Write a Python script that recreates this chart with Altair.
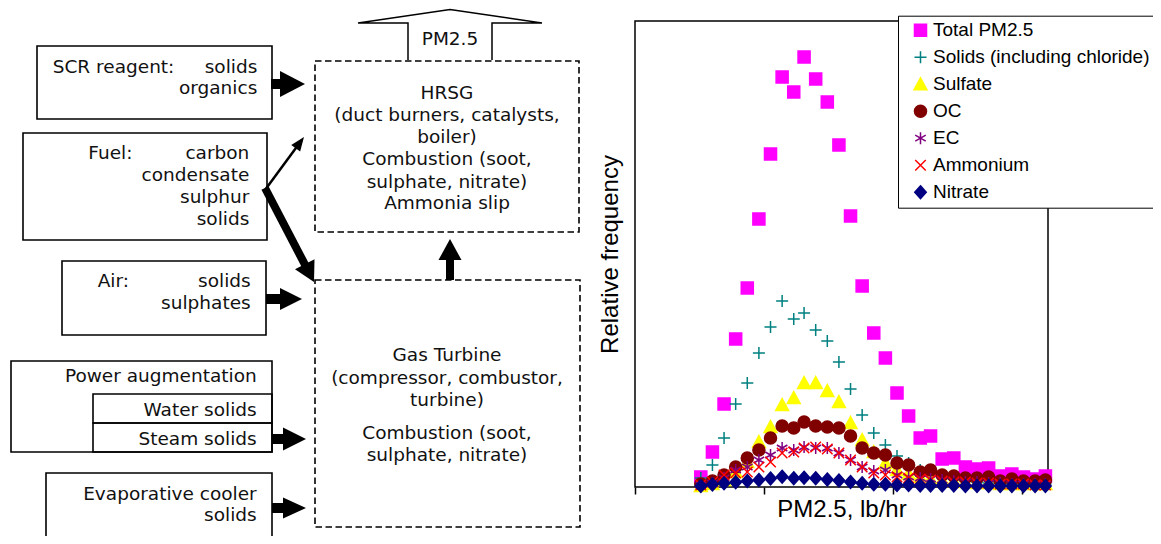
import math
import altair as alt
import pandas as pd

# ---------------- scatter data ----------------
series_names = ["Total PM2.5", "Solids (including chloride)", "Sulfate", "OC", "EC", "Ammonium", "Nitrate"]
series_colors = ["#FF00FF", "#008080", "#FFFF00", "#800000", "#800080", "#FF0000", "#000080"]
series_shapes = [
    "M-0.86,-0.86L0.86,-0.86L0.86,0.86L-0.86,0.86Z",
    "M-0.86,0L0.86,0M0,-0.86L0,0.86",
    "M0,-0.9L0.92,0.8L-0.92,0.8Z",
    "M-0.86,0A0.86,0.86,0,1,1,0.86,0A0.86,0.86,0,1,1,-0.86,0Z",
    "M0,-0.86L0,0.86M-0.75,-0.43L0.75,0.43M-0.75,0.43L0.75,-0.43",
    "M-0.75,-0.75L0.75,0.75M-0.75,0.75L0.75,-0.75",
    "M0,-0.92L0.82,0L0,0.92L-0.82,0Z",
]

pm25_bins = [0.51, 0.60, 0.69, 0.78, 0.87, 0.96, 1.05, 1.14, 1.23, 1.31, 1.40, 1.49, 1.58, 1.67, 1.76, 1.85,
             1.94, 2.03, 2.12, 2.21, 2.29, 2.38, 2.47, 2.56, 2.65, 2.74, 2.83, 2.92, 3.01, 3.10, 3.18]
total_pm25 = [10, 35, 83, 148, 199, 268, 333, 410, 395, 430, 408, 385, 342, 271, 201, 154,
              129, 94, 71, 49, 51, 28, 29, 20, 18, 19, 11, 13, 10, 8, 11]
solids = [9, 22, 49, 83, 104, 134, 160, 186, 168, 174, 157, 146, 125, 98, 72, 54,
          42, 31, 24, 17, 13, 10, 8, 6, 5, 4, 4, 3, 3, 3, 3]
sulfate = [1, 3, 7, 15, 25, 45, 60, 82, 89, 104, 104, 96, 85, 64, 47, 35,
           24, 17, 13, 10, 8, 7, 6, 5, 4, 4, 3, 3, 3, 3, 3]
oc = [3, 6, 12, 20, 29, 37, 49, 61, 59, 65, 61, 60, 59, 51, 39, 34,
      32, 24, 22, 15, 17, 12, 11, 9, 9, 10, 6, 8, 6, 6, 7]
ec = [2, 4, 9, 17, 20, 27, 32, 39, 37, 40, 39, 39, 34, 27, 20, 16,
      17, 12, 10, 9, 8, 7, 6, 5, 5, 4, 4, 3, 3, 3, 3]
ammonium = [2, 5, 12, 14, 15, 20, 25, 34, 35, 39, 40, 38, 34, 27, 20, 14,
            12, 10, 9, 8, 7, 6, 5, 5, 4, 4, 3, 3, 3, 2, 2]
nitrate = [1, 2.5, 3.7, 4.7, 6, 7, 8.5, 10.3, 8.7, 9.3, 8.7, 7.5, 6.5, 5, 3.7, 2.7,
           2.7, 2, 2, 1.5, 1.5, 1.5, 1.5, 1, 1, 1, 1, 1, 1, 1, 1]
x_ticks = [0, 1, 2, 3]
x_domain = [0, 3.2]
y_domain = [0, 466]

# ---------------- diagram data (reference pixel coordinates) ----------------
box_x1 = [37, 23, 62, 11, 93, 93, 46]
box_y1 = [46, 133, 261, 361, 394, 423, 473]
box_x2 = [272, 267, 266, 272, 272, 272, 272]
box_y2 = [119, 240, 335, 452, 423, 452, 560]

dbox_x1 = [315, 315]
dbox_y1 = [61, 280]
dbox_x2 = [579, 580]
dbox_y2 = [232, 527]

out_x = [408, 408, 358, 450, 542, 492, 492]
out_y = [60, 23, 23, 9.5, 23, 23, 60]

arrow_tail_x = [271, 266, 272, 272, 450, 265, 265]
arrow_tail_y = [84, 299, 439, 508, 280, 190, 188]
arrow_tip_x = [305, 302, 306, 306, 450, 304, 314]
arrow_tip_y = [84, 299, 439, 508, 239, 137, 282]
arrow_shaft_w = [10, 10, 10, 10, 8, 2.5, 8]
arrow_head_len = [25, 22, 23, 23, 21, 14, 20]
arrow_head_wid = [26, 22, 23, 21, 23, 11, 22]

center_text = ["PM2.5", "HRSG", "(duct burners, catalysts,", "boiler)", "Combustion (soot,",
               "sulphate, nitrate)", "Ammonia slip", "Gas Turbine", "(compressor, combustor,",
               "turbine)", "Combustion (soot,", "sulphate, nitrate)"]
center_x = [450, 447, 447, 447, 447, 447, 447, 447, 447, 447, 447, 447]
center_y = [38.5, 93.3, 115, 136.7, 159.3, 181.7, 203.3, 355, 378.3, 400, 432.7, 455]

left_text = ["SCR reagent:", "Fuel:", "Air:"]
left_x = [52.7, 88.3, 97.7]
left_y = [66.7, 153.3, 281]

right_text = ["solids", "organics", "carbon", "condensate", "sulphur", "solids", "solids",
              "sulphates", "Power augmentation", "Water solids", "Steam solids",
              "Evaporative cooler", "solids"]
right_x = [257.3, 257.3, 249.3, 249.3, 249.3, 249.3, 250.7, 250.7, 256.7, 256.7, 256.7, 256.7, 256.7]
right_y = [66.7, 88.3, 153.3, 175, 197.3, 219, 281, 302.7, 376, 410, 439, 494, 515]

# ---------------- build tables ----------------
rows = []
for name, vals in zip(series_names, [total_pm25, solids, sulfate, oc, ec, ammonium, nitrate]):
    for xv, yv in zip(pm25_bins, vals):
        rows.append({"series": name, "pm": xv, "freq": yv})
scatter_df = pd.DataFrame(rows)

frame_df = pd.DataFrame({"x": [x_domain[0]], "x2": [x_domain[1]], "y": [y_domain[0]], "y2": [y_domain[1]]})

box_df = pd.DataFrame({"x1": box_x1, "y1": box_y1, "x2": box_x2, "y2": box_y2})
dbox_df = pd.DataFrame({"x1": dbox_x1, "y1": dbox_y1, "x2": dbox_x2, "y2": dbox_y2})
out_df = pd.DataFrame({"x": out_x, "y": out_y, "i": list(range(len(out_x)))})

shaft_rows, head_rows = [], []
for tx, ty, px, py, w, L, W in zip(arrow_tail_x, arrow_tail_y, arrow_tip_x, arrow_tip_y,
                                   arrow_shaft_w, arrow_head_len, arrow_head_wid):
    ddx, ddy = px - tx, py - ty
    n = math.hypot(ddx, ddy)
    ux, uy = ddx / n, ddy / n
    bx, by = px - ux * L, py - uy * L
    shaft_rows.append({"x": tx, "y": ty, "bx": bx + ux, "by": by + uy, "w": w})
    head_rows.append({"x": px - ux * L / 2, "y": py - uy * L / 2, "s": L * L,
                      "a": math.degrees(math.atan2(ddy, ddx)) % 360,
                      "path": f"M-1,{-W / L:.3f}L1,0L-1,{W / L:.3f}Z"})
shaft_df = pd.DataFrame(shaft_rows)
head_df = pd.DataFrame(head_rows)

ct_df = pd.DataFrame({"x": center_x, "y": center_y, "t": center_text})
lt_df = pd.DataFrame({"x": left_x, "y": left_y, "t": left_text})
rt_df = pd.DataFrame({"x": right_x, "y": right_y, "t": right_text})

# ---------------- scales ----------------
W_TOTAL, H_TOTAL = 1145, 528
dxs = alt.Scale(domain=[8, 8 + W_TOTAL], range=[0, W_TOTAL], nice=False, zero=False)
dys = alt.Scale(domain=[8, 8 + H_TOTAL], range=[0, H_TOTAL], nice=False, zero=False)
sx = alt.Scale(domain=x_domain, range=[627, 1040], nice=False, zero=False)
sy = alt.Scale(domain=y_domain, range=[479, 13], nice=False, zero=False)

AX_FONT = "Liberation Sans"
x_axis = alt.Axis(orient="bottom", offset=-49, values=x_ticks, labels=False, ticks=True, tickSize=7,
                  tickWidth=1.5, tickColor="black", domain=False, grid=False,
                  title="PM2.5, lb/hr", titleFont=AX_FONT, titleFontSize=24, titleFontWeight="normal",
                  titleColor="black", titlePadding=3)
y_axis = alt.Axis(orient="left", offset=-627, labels=False, ticks=False, domain=False, grid=False,
                  title="Relative frequency", titleFont=AX_FONT, titleFontSize=24,
                  titleFontWeight="normal", titleColor="black", titlePadding=13)

# ---------------- scatter group ----------------
frame = alt.Chart(frame_df).mark_rect(fillOpacity=0, stroke="black", strokeWidth=1.5).encode(
    x=alt.X("x:Q", scale=sx, axis=x_axis),
    x2="x2",
    y=alt.Y("y:Q", scale=sy, axis=y_axis),
    y2="y2",
)

points = alt.Chart(scatter_df).mark_point(filled=True, size=196, strokeWidth=1.5, opacity=1).encode(
    x=alt.X("pm:Q", scale=sx, axis=x_axis),
    y=alt.Y("freq:Q", scale=sy, axis=y_axis),
    fill=alt.Fill("series:N", scale=alt.Scale(domain=series_names, range=series_colors), title=None),
    stroke=alt.Stroke("series:N", scale=alt.Scale(domain=series_names, range=series_colors), title=None),
    shape=alt.Shape("series:N", scale=alt.Scale(domain=series_names, range=series_shapes), title=None),
)
scatter_group = alt.layer(frame, points)

# ---------------- diagram group ----------------
def px_x(f):
    return alt.X(f, scale=dxs, axis=None)

def px_y(f):
    return alt.Y(f, scale=dys, axis=None)

boxes = alt.Chart(box_df).mark_rect(fillOpacity=0, stroke="black", strokeWidth=1.6).encode(
    x=px_x("x1:Q"), x2="x2", y=px_y("y1:Q"), y2="y2")
dboxes = alt.Chart(dbox_df).mark_rect(fillOpacity=0, stroke="black", strokeWidth=1.6,
                                      strokeDash=[6.5, 3.5]).encode(
    x=px_x("x1:Q"), x2="x2", y=px_y("y1:Q"), y2="y2")
out_line = alt.Chart(out_df).mark_line(color="black", strokeWidth=1.5).encode(
    x=px_x("x:Q"), y=px_y("y:Q"), order="i:Q")
shafts = alt.Chart(shaft_df).mark_rule(color="black").encode(
    x=px_x("x:Q"), y=px_y("y:Q"), x2="bx", y2="by",
    strokeWidth=alt.StrokeWidth("w:Q", scale=None))
heads = alt.Chart(head_df).mark_point(filled=True, color="black", opacity=1, strokeWidth=0).encode(
    x=px_x("x:Q"), y=px_y("y:Q"),
    shape=alt.Shape("path:N", scale=None),
    size=alt.Size("s:Q", scale=None),
    angle=alt.Angle("a:Q", scale=None))
DIAG_FONT = "DejaVu Sans"
DIAG_FS = 18.5
ctext = alt.Chart(ct_df).mark_text(font=DIAG_FONT, fontSize=DIAG_FS, color="#111111", align="center",
                                   baseline="middle").encode(x=px_x("x:Q"), y=px_y("y:Q"), text="t:N")
ltext = alt.Chart(lt_df).mark_text(font=DIAG_FONT, fontSize=DIAG_FS, color="#111111", align="left",
                                   baseline="middle").encode(x=px_x("x:Q"), y=px_y("y:Q"), text="t:N")
rtext = alt.Chart(rt_df).mark_text(font=DIAG_FONT, fontSize=DIAG_FS, color="#111111", align="right",
                                   baseline="middle").encode(x=px_x("x:Q"), y=px_y("y:Q"), text="t:N")

diagram_group = alt.layer(boxes, dboxes, out_line, shafts, heads, ctext, ltext, rtext)

chart = alt.layer(diagram_group, scatter_group).resolve_scale(
    x="independent", y="independent", shape="independent", size="independent", angle="independent",
    fill="independent", stroke="independent",
).properties(
    width=W_TOTAL, height=H_TOTAL, padding=0,
    autosize=alt.AutoSizeParams(type="none"), background="white",
).configure_view(strokeWidth=0).configure_legend(
    orient="none", legendX=890, legendY=7.7, fillColor="white", strokeColor="black", padding=5,
    labelFont=AX_FONT, labelFontSize=19, labelColor="black", symbolOffset=8, labelOffset=3,
    rowPadding=7, symbolSize=196, symbolStrokeWidth=1.5, labelLimit=400,
)

chart.save("out.html", embed_options={"renderer": "svg", "actions": False})
